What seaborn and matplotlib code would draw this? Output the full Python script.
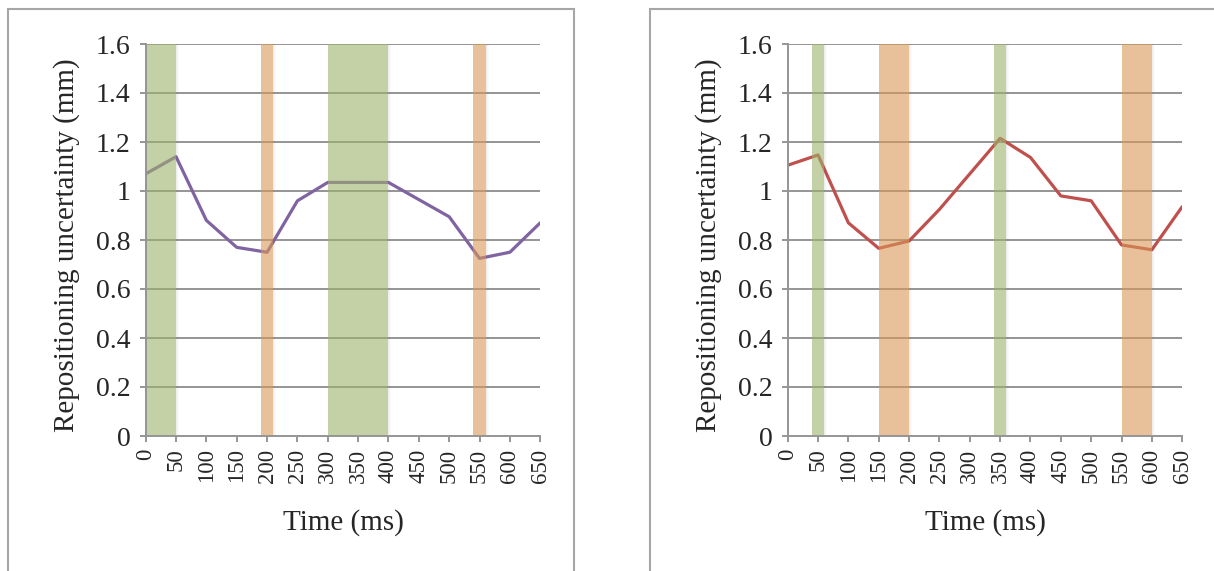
import matplotlib
matplotlib.use("Agg")
import matplotlib.pyplot as plt
from matplotlib.patches import Rectangle
import seaborn as sns
import pandas as pd

# Time points (ms)
time_ms = [0, 50, 100, 150, 200, 250, 300, 350, 400, 450, 500, 550, 600, 650]

# Repositioning uncertainty (mm) for each condition
left_values = [1.07, 1.14, 0.88, 0.77, 0.75, 0.96, 1.035, 1.035, 1.035, 0.965, 0.895, 0.725, 0.75, 0.87]
right_values = [1.105, 1.147, 0.87, 0.766, 0.796, 0.925, 1.07, 1.215, 1.137, 0.98, 0.96, 0.78, 0.76, 0.936]

# Highlighted time windows (start, end) in ms
left_green = [(0, 50), (300, 400)]
left_orange = [(190, 210), (540, 560)]
right_green = [(40, 60), (340, 360)]
right_orange = [(150, 200), (550, 600)]

y_ticks = [0, 0.2, 0.4, 0.6, 0.8, 1.0, 1.2, 1.4, 1.6]

GREEN = "#9db16b"
ORANGE = "#d99958"
BAND_ALPHA = 0.6
GRID = "#959595"

sns.set_theme(style="white")
plt.rcParams["font.family"] = ["Liberation Serif", "DejaVu Serif"]

fig = plt.figure(figsize=(12.14, 5.71), dpi=100)

panels = [
    (145.7, left_values, "#8064a2", left_green, left_orange),
    (787.7, right_values, "#c0504d", right_green, right_orange),
]

W, H = 1214.0, 571.0
AX_W = 394.5
MS_PER_PX = 650 / AX_W


def band(ax, a, b, color):
    # soft shadow along the right edge, then the translucent band
    for k, al in enumerate([0.10, 0.06, 0.03]):
        ax.axvspan(b + k * MS_PER_PX, b + (k + 1) * MS_PER_PX, color="#606060",
                   alpha=al, lw=0, zorder=3.5)
    ax.axvspan(a, b, color=color, alpha=BAND_ALPHA, lw=0, zorder=4)


for x0, vals, color, greens, oranges in panels:
    ax = fig.add_axes([x0 / W, (H - 436) / H, AX_W / W, 392 / H])
    df = pd.DataFrame({"Time (ms)": time_ms, "value": vals})
    sns.lineplot(data=df, x="Time (ms)", y="value", ax=ax, color=color,
                 linewidth=2.3, zorder=3)
    for y in y_ticks[1:]:
        ax.axhline(y, color=GRID, linewidth=1.4, zorder=1)
    for (a, b) in greens:
        band(ax, a, b, GREEN)
    for (a, b) in oranges:
        band(ax, a, b, ORANGE)
    ax.set_xlim(0, 650)
    ax.set_ylim(0, 1.6)
    ax.set_xticks(time_ms)
    ax.set_xticklabels([str(t) for t in time_ms], rotation=90, fontsize=16.5)
    ax.set_yticks(y_ticks)
    ax.set_yticklabels([f"{v:g}" for v in y_ticks], fontsize=20)
    ax.set_xlabel("Time (ms)", fontsize=21)
    ax.set_ylabel("Repositioning uncertainty (mm)", fontsize=21)
    ax.xaxis.set_label_coords(0.5, -0.222)
    ax.xaxis.label.set_verticalalignment("center")
    ax.yaxis.set_label_coords(-0.2, 0.487)
    ax.yaxis.label.set_verticalalignment("center")
    for side in ["top", "right"]:
        ax.spines[side].set_visible(False)
    for side in ["left", "bottom"]:
        ax.spines[side].set_color(GRID)
        ax.spines[side].set_linewidth(1.4)
        ax.spines[side].set_zorder(5)
    ax.tick_params(axis="x", direction="out", length=4, width=1.4,
                   color=GRID, pad=5, bottom=True)
    ax.tick_params(axis="y", direction="out", length=4, width=1.4,
                   color=GRID, pad=7, left=True)
    ax.set_facecolor("none")

# Chart-area frames
frame_kw = dict(transform=None, fill=False, edgecolor="#a6a6a6", linewidth=1.5, clip_on=False)
fig.patches.append(Rectangle((8, H - 580), 566, 571, **frame_kw))
fig.patches.append(Rectangle((650, H - 580), 600, 571, **frame_kw))

fig.savefig("out.png", dpi=100)
